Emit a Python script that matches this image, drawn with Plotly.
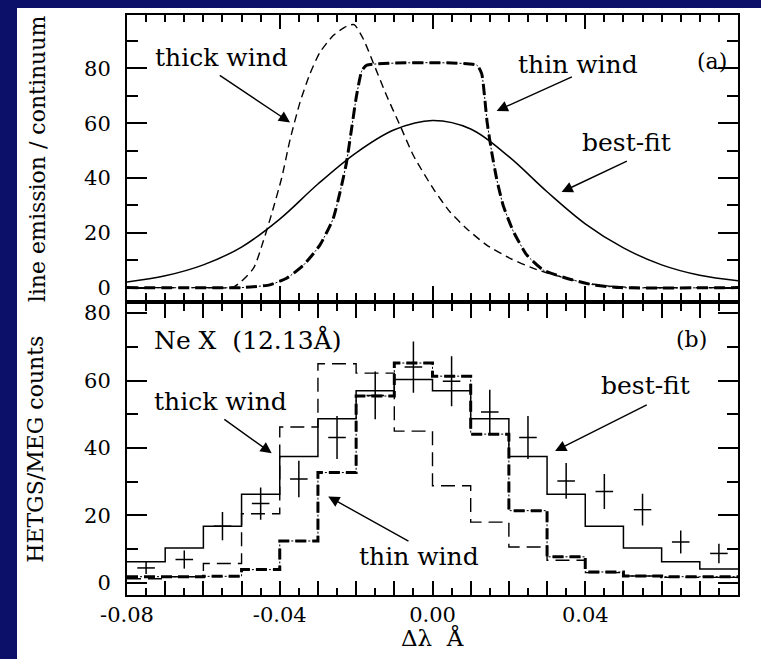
import plotly.graph_objects as go

# ---------------- panel (a): model line profiles ----------------
bestfit_x = [-0.08, -0.07, -0.06, -0.05, -0.04, -0.03, -0.02, -0.01, 0.0,
             0.01, 0.02, 0.03, 0.04, 0.05, 0.06, 0.07, 0.08]
bestfit_y = [2.0, 4.3, 8.3, 14.8, 25.0, 37.8, 49.2, 57.6, 61.0,
             57.9, 47.8, 35.0, 23.3, 14.5, 8.3, 4.5, 2.5]

thick_x = [-0.08, -0.06, -0.052, -0.0469, -0.0443, -0.0421, -0.0395, -0.0373,
           -0.0347, -0.0321, -0.0295, -0.026, -0.0225, -0.0205, -0.0181,
           -0.0155, -0.012, -0.0085, -0.005, 0.0002, 0.0046, 0.0089, 0.0142,
           0.0203, 0.0264, 0.0334, 0.0404, 0.0473, 0.055, 0.08]
thick_y = [0.0, 0.0, 0.3, 7.0, 17.0, 27.0, 40.0, 54.0,
           67.6, 78.0, 85.8, 92.0, 95.4, 96.0, 90.7,
           82.0, 70.0, 59.2, 48.2, 36.1, 27.6, 21.6, 15.5,
           10.7, 7.0, 4.0, 1.6, 0.4, 0.0, 0.0]

thin_x = [-0.08, -0.05, -0.0469, -0.0426, -0.0382, -0.0338, -0.0295, -0.026,
          -0.0238, -0.0225, -0.0212, -0.0199, -0.0185, -0.0172, 0.0116,
          0.0129, 0.0137, 0.0143, 0.0155, 0.0168, 0.0185, 0.0212, 0.0247,
          0.029, 0.0351, 0.0421, 0.0491, 0.08]
thin_y = [0.0, 0.0, 0.3, 1.0, 3.4, 8.2, 15.5, 25.2,
          37.3, 45.8, 57.9, 70.0, 79.2, 81.2, 81.2,
          78.0, 68.8, 60.4, 49.5, 39.7, 30.0, 20.4, 11.9,
          6.4, 3.4, 1.0, 0.0, 0.0]

# ---------------- panel (b): binned counts ----------------
bin_edges = [-0.08, -0.07, -0.06, -0.05, -0.04, -0.03, -0.02, -0.01, 0.0,
             0.01, 0.02, 0.03, 0.04, 0.05, 0.06, 0.07, 0.08]
bestfit_counts = [6.2, 10.3, 16.8, 26.3, 37.5, 48.7, 57.0, 60.3,
                  57.0, 48.7, 37.5, 26.3, 16.8, 10.3, 6.2, 4.1]
thick_counts = [1.2, 1.8, 5.7, 20.5, 46.2, 65.0, 62.2, 45.0,
                28.8, 18.0, 10.6, 6.7, 3.0, 2.0, 1.6, 1.6]
thin_counts = [1.8, 1.8, 1.9, 3.9, 12.4, 32.7, 55.4, 65.2,
               61.3, 44.1, 21.4, 7.7, 3.2, 2.0, 1.8, 1.8]

obs_x = [-0.075, -0.065, -0.055, -0.045, -0.035, -0.025, -0.015, -0.005,
         0.005, 0.015, 0.025, 0.035, 0.045, 0.055, 0.065, 0.075]
obs_y = [4.4, 6.9, 16.8, 23.5, 30.8, 43.1, 55.6, 64.0,
         59.8, 50.7, 43.1, 30.2, 27.1, 21.7, 12.1, 8.7]
obs_err = [1.8, 2.7, 4.2, 4.8, 5.4, 6.4, 7.1, 7.6,
           7.4, 6.6, 6.4, 5.3, 5.2, 4.7, 3.4, 2.9]

x_major = [-0.08, -0.07, -0.06, -0.05, -0.04, -0.03, -0.02, -0.01, 0.0,
           0.01, 0.02, 0.03, 0.04, 0.05, 0.06, 0.07, 0.08]
x_labels = ["-0.08", "", "", "", "-0.04", "", "", "", "0.00",
            "", "", "", "0.04", "", "", "", "0.08"]
y_major = [0, 20, 40, 60, 80]

SERIF = "DejaVu Serif"
NAVY = "#0c1068"

fig = go.Figure()

# panel (a) curves
fig.add_trace(go.Scatter(x=bestfit_x, y=bestfit_y, mode="lines",
                         line=dict(color="black", width=1.5, shape="spline", smoothing=1.0),
                         xaxis="x", yaxis="y", showlegend=False))
fig.add_trace(go.Scatter(x=thick_x, y=thick_y, mode="lines",
                         line=dict(color="black", width=1.4, dash="8px,5px",
                                   shape="spline", smoothing=0.6),
                         xaxis="x", yaxis="y", showlegend=False))
# thin-wind profile: heavy dashes with light dots between them
fig.add_trace(go.Scatter(x=thin_x, y=thin_y, mode="lines",
                         line=dict(color="black", width=1.0, dash="11px,2px,2px,2px",
                                   shape="spline", smoothing=0.5),
                         xaxis="x", yaxis="y", showlegend=False))
fig.add_trace(go.Scatter(x=thin_x, y=thin_y, mode="lines",
                         line=dict(color="black", width=3.0, dash="11px,6px",
                                   shape="spline", smoothing=0.5),
                         xaxis="x", yaxis="y", showlegend=False))

# panel (b) histograms (step lines over bin edges)
def steps(vals):
    return list(vals) + [vals[-1]]

fig.add_trace(go.Scatter(x=bin_edges, y=steps(bestfit_counts), mode="lines",
                         line=dict(color="black", width=1.5, shape="hv"),
                         xaxis="x2", yaxis="y2", showlegend=False))
fig.add_trace(go.Scatter(x=bin_edges, y=steps(thick_counts), mode="lines",
                         line=dict(color="black", width=1.4, dash="14px,7px", shape="hv"),
                         xaxis="x2", yaxis="y2", showlegend=False))
fig.add_trace(go.Scatter(x=bin_edges, y=steps(thin_counts), mode="lines",
                         line=dict(color="black", width=1.0, dash="11px,2px,2px,2px", shape="hv"),
                         xaxis="x2", yaxis="y2", showlegend=False))
fig.add_trace(go.Scatter(x=bin_edges, y=steps(thin_counts), mode="lines",
                         line=dict(color="black", width=3.0, dash="11px,6px", shape="hv"),
                         xaxis="x2", yaxis="y2", showlegend=False))

# observed counts with error crosses
fig.add_trace(go.Scatter(x=obs_x, y=obs_y, mode="markers",
                         marker=dict(size=1, color="black"),
                         error_y=dict(type="data", array=obs_err, width=0,
                                      thickness=1.5, color="black"),
                         error_x=dict(type="constant", value=0.0023, width=0,
                                      thickness=1.5, color="black"),
                         xaxis="x2", yaxis="y2", showlegend=False))

tickfont = dict(family=SERIF, size=21, color="black")

def xaxis_cfg(anchor, show_labels):
    return dict(anchor=anchor, range=[-0.08, 0.08], tickmode="array",
                tickvals=x_major, ticktext=x_labels, showticklabels=show_labels,
                ticks="inside", ticklen=14, tickwidth=1.5, tickcolor="black",
                minor=dict(ticks="inside", ticklen=7, tickwidth=1.5, tickcolor="black",
                           tickmode="linear", tick0=-0.08, dtick=0.005, showgrid=False),
                showline=True, linewidth=2, linecolor="black", mirror="ticks",
                showgrid=False, zeroline=False, tickfont=tickfont)

def yaxis_cfg(anchor, domain, rng):
    return dict(anchor=anchor, domain=domain, range=rng, tickmode="array",
                tickvals=y_major, ticks="inside", ticklen=20, tickwidth=1.5,
                tickcolor="black",
                minor=dict(ticks="inside", ticklen=11, tickwidth=1.5, tickcolor="black",
                           tickmode="linear", tick0=0, dtick=10, showgrid=False),
                showline=True, linewidth=2, linecolor="black", mirror="ticks",
                showgrid=False, zeroline=False, tickfont=tickfont,
                ticklabelstandoff=10)

txt = dict(family=SERIF, size=25, color="black")
lbl = dict(family=SERIF, size=22, color="black")


def label(x, y, xref, yref, text, font, angle=0):
    return dict(x=x, y=y, xref=xref, yref=yref, text=text, showarrow=False,
                font=font, textangle=angle, xanchor="center", yanchor="middle")


annotations = [
    # panel (a)
    label(-0.0552, 83.9, "x", "y", "thick wind", txt),
    label(0.038, 81.4, "x", "y", "thin wind", txt),
    label(0.0508, 53.0, "x", "y", "best-fit", txt),
    label(0.0733, 82.5, "x", "y", "(a)", lbl),
    # panel (b)
    label(-0.0485, 72.1, "x2", "y2", "Ne X  (12.13Å)", txt),
    label(0.0679, 72.1, "x2", "y2", "(b)", lbl),
    label(-0.0556, 53.9, "x2", "y2", "thick wind", txt),
    label(0.0558, 58.4, "x2", "y2", "best-fit", txt),
    label(-0.0035, 7.7, "x2", "y2", "thin wind", txt),
    # axis titles
    label(-0.1473, 0.753, "paper", "paper", "line emission / continuum", lbl, -90),
    label(-0.149, 0.252, "paper", "paper", "HETGS/MEG counts", lbl, -90),
    label(0.5, -0.0738, "paper", "paper", "Δλ  Å",
          dict(family=SERIF, size=23, color="black")),
]

# pointer arrows (tail -> head)
arrows = [
    ("x", "y", -0.0561, 77.8, -0.0373, 60.3),
    ("x", "y", 0.0369, 77.2, 0.0168, 64.5),
    ("x", "y", 0.0513, 46.4, 0.0338, 34.9),
    ("x2", "y2", -0.0549, 48.8, -0.0421, 38.4),
    ("x2", "y2", -0.0059, 12.1, -0.0273, 25.6),
    ("x2", "y2", 0.0565, 53.0, 0.0321, 39.1),
]
for xr, yr, tx, ty, hx, hy in arrows:
    annotations.append(dict(x=hx, y=hy, ax=tx, ay=ty, xref=xr, yref=yr,
                            axref=xr, ayref=yr, text="", showarrow=True,
                            arrowhead=2, arrowsize=1.6, arrowwidth=1.4,
                            arrowcolor="black", standoff=0, startstandoff=0))

fig.update_layout(
    width=761, height=659, autosize=False,
    margin=dict(l=127, r=23, t=12, b=64, pad=0),
    paper_bgcolor=NAVY, plot_bgcolor="white",
    xaxis=xaxis_cfg("y", False),
    yaxis=yaxis_cfg("x", [0.5094, 1.0], [-4.36, 99.5]),
    xaxis2=xaxis_cfg("y2", True),
    yaxis2=yaxis_cfg("x2", [0.0, 0.5009], [-3.63, 82.57]),
    annotations=annotations,
    shapes=[dict(type="rect", xref="paper", yref="paper", layer="below",
                 x0=(17 - 127) / 611, x1=(770 - 127) / 611,
                 y0=(595 - 670) / 583, y1=(595 - 5) / 583,
                 fillcolor="white", line=dict(width=0))],
)

fig.write_html("out.html")
